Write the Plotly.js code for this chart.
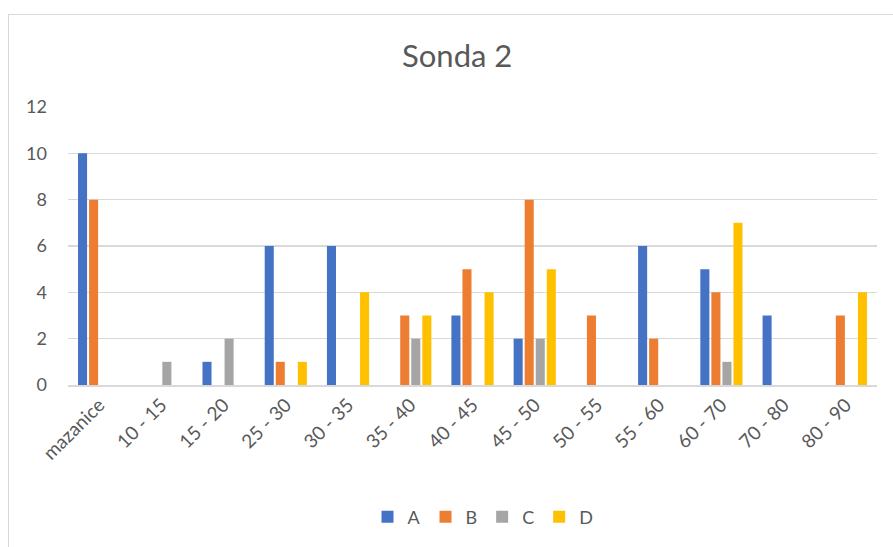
<!DOCTYPE html>
<html>
<head>
<meta charset="utf-8">
<script src="https://cdn.plot.ly/plotly-3.0.1.min.js"></script>
<style>
html,body{margin:0;padding:0;background:#fff;overflow:hidden;}
#frame{position:absolute;left:8px;top:14px;width:900px;height:560px;border:1px solid #d9d9d9;box-sizing:border-box;pointer-events:none;}
#chart{position:absolute;left:0;top:0;width:893px;height:547px;}
</style>
</head>
<body>
<div id="chart"></div>
<div id="frame"></div>
<script>
const categories = ["mazanice","10 - 15","15 - 20","25 - 30","30 - 35","35 - 40","40 - 45","45 - 50","50 - 55","55 - 60","60 - 70","70 - 80","80 - 90"];
const seriesA = [10, 0, 1, 6, 6, 0, 3, 2, 0, 6, 5, 3, 0];
const seriesB = [8, 0, 0, 1, 0, 3, 5, 8, 3, 2, 4, 0, 3];
const seriesC = [0, 1, 2, 0, 0, 2, 0, 2, 0, 0, 1, 0, 0];
const seriesD = [0, 0, 0, 1, 4, 3, 4, 5, 0, 0, 7, 0, 4];
const seriesNames = ["A","B","C","D"];
const colors = ["#4472C4","#ED7D31","#A5A5A5","#FFC000"];
const yTicks = [0,2,4,6,8,10,12];

const all = [seriesA, seriesB, seriesC, seriesD];
const traces = all.map((vals, i) => ({
  type: "bar",
  name: seriesNames[i],
  x: categories,
  y: vals,
  marker: {color: colors[i]},
  hoverinfo: "x+y+name"
}));

const font = "Lato, 'Open Sans', 'Liberation Sans', sans-serif";
const layout = {
  width: 893, height: 547,
  margin: {l: 68, r: 16, t: 107, b: 162},
  paper_bgcolor: "rgba(0,0,0,0)",
  plot_bgcolor: "#fff",
  font: {family: font, color: "#595959", size: 17},
  title: {text: "Sonda 2", font: {family: font, size: 31, color: "#595959"}, x: 0.512, xanchor: "center", y: 0.897, yanchor: "middle"},
  barmode: "group",
  bargap: 0.29,
  bargroupgap: 0.18,
  showlegend: true,
  legend: {orientation: "h", x: 0.513, xanchor: "center", y: -0.475, yanchor: "middle", font: {size: 18, color: "#595959"}, traceorder: "normal"},
  xaxis: {
    type: "category",
    tickangle: -45,
    tickfont: {size: 19, color: "#595959"},
    showgrid: false,
    showline: true,
    linecolor: "#d9d9d9",
    linewidth: 1.5,
    ticks: "",
    zeroline: false
  },
  yaxis: {
    range: [0, 12],
    tickvals: yTicks,
    ticktext: yTicks.map(String),
    tickfont: {size: 18, color: "#595959"},
    gridcolor: "#d9d9d9",
    gridwidth: 1.5,
    zeroline: false,
    showline: false,
    ticks: "",
    ticklabelstandoff: 20
  }
};

Plotly.newPlot("chart", traces, layout, {displayModeBar: false, staticPlot: true});
</script>
</body>
</html>
